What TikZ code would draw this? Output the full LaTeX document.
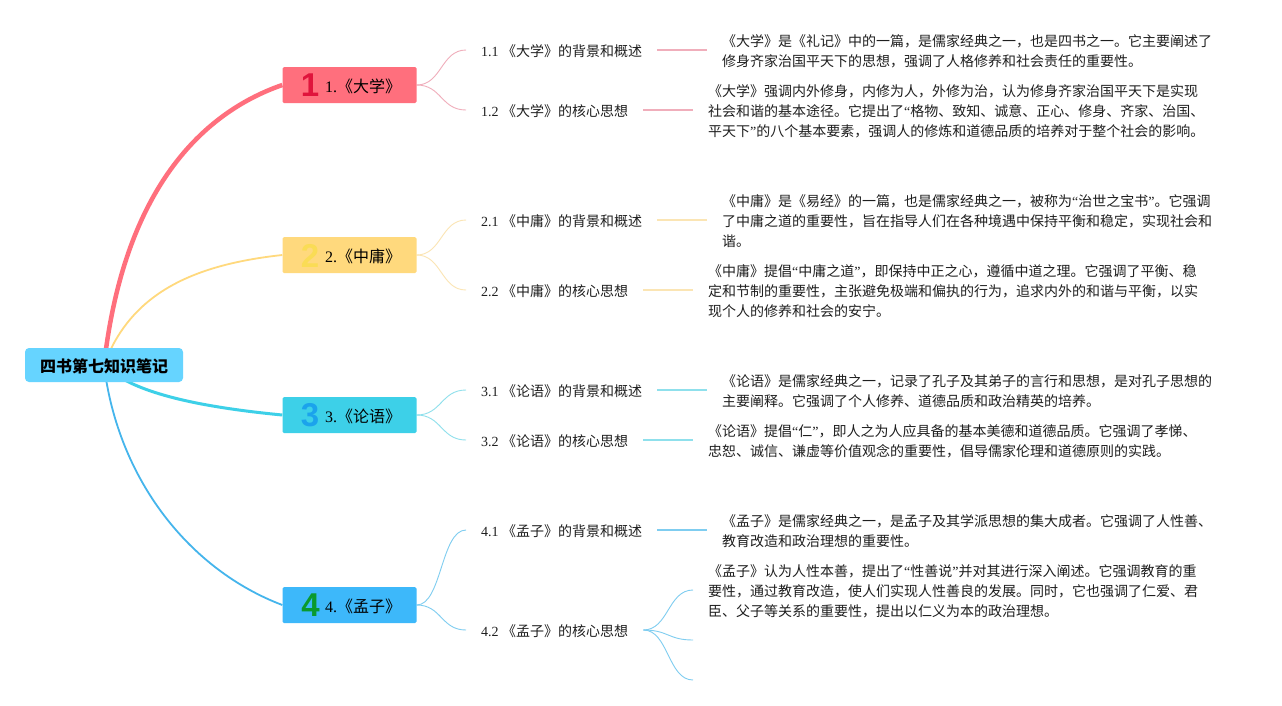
\documentclass[tikz,border=0pt]{standalone}
\usepackage{fontspec}
\usetikzlibrary{backgrounds}
\setmainfont{Noto Sans CJK SC}
\newfontfamily\lat{Liberation Serif}
\newfontfamily\iconfont{Liberation Sans}
\newcommand{\LQ}{{\lat “}}
\newcommand{\RQ}{{\lat ”}}
\newcommand{\tlabel}[2]{\hbox to 134pt{\hspace{42.5pt}\raisebox{-7pt}[0pt][0pt]{{\lat #1}#2}\hfil}}
\definecolor{rootc}{HTML}{66D4FF}
\definecolor{redc}{HTML}{FF6F7D}
\definecolor{yelc}{HTML}{FFD97D}
\definecolor{teac}{HTML}{3DD0E8}
\definecolor{bluc}{HTML}{3DB8FA}
\definecolor{blue2}{HTML}{45B5EC}
\definecolor{redl}{HTML}{F0AEBB}
\definecolor{yell}{HTML}{FBE5B4}
\definecolor{teal2}{HTML}{8FE0EC}
\definecolor{blul}{HTML}{7FCDF0}
\definecolor{ic1}{HTML}{E0143C}
\definecolor{ic2}{HTML}{FADC55}
\definecolor{ic3}{HTML}{1BA3EC}
\definecolor{ic4}{HTML}{0A9A2E}
\tikzset{
  rootbox/.style={fill=rootc,rounded corners=4pt,minimum width=158pt,minimum height=34pt,inner sep=0pt,font=\fontsize{16}{20}\selectfont\bfseries},
  topicbox/.style={rounded corners=1.5pt,minimum width=134pt,minimum height=36pt,inner sep=0pt,font=\fontsize{16}{20}\selectfont},
  iconnum/.style={inner sep=0pt,font=\fontsize{33}{34}\selectfont\iconfont\bfseries},
  sublabel/.style={anchor=west,inner xsep=15pt,inner ysep=0pt,text height=14pt,text depth=2pt,font=\fontsize{14}{20}\selectfont,text=black!88},
  notebox/.style={anchor=west,inner xsep=15pt,inner ysep=0pt,align=left,font=\fontsize{14}{20}\selectfont,text=black!88,
    execute at begin node={\rule[-4pt]{0pt}{15pt}},execute at end node={\rule[-4pt]{0pt}{15pt}}},
  branch/.style={line width=0.9pt},
  leaf/.style={line width=1.7pt}
}
\begin{document}
\begin{tikzpicture}[x=1pt,y=-1pt]
\useasboundingbox (0,0) rectangle (1282,705);
\node[rootbox] (root) at (104,365) {\raisebox{-7pt}[0pt][0pt]{四书第七知识笔记}};
\node[topicbox,fill=redc] (t1) at (349.5,85) {\tlabel{1.}{《大学》}};
\node[topicbox,fill=yelc] (t2) at (349.5,255) {\tlabel{2.}{《中庸》}};
\node[topicbox,fill=teac] (t3) at (349.5,415) {\tlabel{3.}{《论语》}};
\node[topicbox,fill=bluc] (t4) at (349.5,605) {\tlabel{4.}{《孟子》}};
\node[iconnum,text=ic1] (i1) at (310,85) {1};
\node[iconnum,text=ic2] (i2) at (310,255.5) {2};
\node[iconnum,text=ic3] (i3) at (310,415.5) {3};
\node[iconnum,text=ic4] (i4) at (310.5,605) {4};

\node[sublabel] (l11) at (466,50) {{\lat 1.1 }《大学》的背景和概述};
\node[sublabel] (l12) at (466,110) {{\lat 1.2 }《大学》的核心思想};
\node[sublabel] (l21) at (466,220) {{\lat 2.1 }《中庸》的背景和概述};
\node[sublabel] (l22) at (466,290) {{\lat 2.2 }《中庸》的核心思想};
\node[sublabel] (l31) at (466,390) {{\lat 3.1 }《论语》的背景和概述};
\node[sublabel] (l32) at (466,440) {{\lat 3.2 }《论语》的核心思想};
\node[sublabel] (l41) at (466,530) {{\lat 4.1 }《孟子》的背景和概述};
\node[sublabel] (l42) at (466,630) {{\lat 4.2 }《孟子》的核心思想};

\node[notebox] (n11) at (707,52.5) {《大学》是《礼记》中的一篇，是儒家经典之一，也是四书之一。它主要阐述了\\修身齐家治国平天下的思想，强调了人格修养和社会责任的重要性。};
\node[notebox] (n12) at (693,112.5) {《大学》强调内外修身，内修为人，外修为治，认为修身齐家治国平天下是实现\\社会和谐的基本途径。它提出了\LQ 格物、致知、诚意、正心、修身、齐家、治国、\\平天下\RQ 的八个基本要素，强调人的修炼和道德品质的培养对于整个社会的影响。};
\node[notebox] (n21) at (707,222.5) {《中庸》是《易经》的一篇，也是儒家经典之一，被称为\LQ 治世之宝书\RQ 。它强调\\了中庸之道的重要性，旨在指导人们在各种境遇中保持平衡和稳定，实现社会和\\谐。};
\node[notebox] (n22) at (693,292.5) {《中庸》提倡\LQ 中庸之道\RQ ，即保持中正之心，遵循中道之理。它强调了平衡、稳\\定和节制的重要性，主张避免极端和偏执的行为，追求内外的和谐与平衡，以实\\现个人的修养和社会的安宁。};
\node[notebox] (n31) at (707,392.5) {《论语》是儒家经典之一，记录了孔子及其弟子的言行和思想，是对孔子思想的\\主要阐释。它强调了个人修养、道德品质和政治精英的培养。};
\node[notebox] (n32) at (693,442.5) {《论语》提倡\LQ 仁\RQ ，即人之为人应具备的基本美德和道德品质。它强调了孝悌、\\忠恕、诚信、谦虚等价值观念的重要性，倡导儒家伦理和道德原则的实践。};
\node[notebox] (n41) at (707,532.5) {《孟子》是儒家经典之一，是孟子及其学派思想的集大成者。它强调了人性善、\\教育改造和政治理想的重要性。};
\node[notebox] (n42) at (693,592.5) {《孟子》认为人性本善，提出了\LQ 性善说\RQ 并对其进行深入阐述。它强调教育的重\\要性，通过教育改造，使人们实现人性善良的发展。同时，它也强调了仁爱、君\\臣、父子等关系的重要性，提出以仁义为本的政治理想。};
\coordinate (c1) at (693,640);
\coordinate (c2) at (693,680);

\begin{scope}[on background layer]
\fill[white] (0,0) rectangle (1282,705);
\draw[redc,line width=4.5pt] (root.center) .. controls (125,180) and (210,110) .. (t1.west);
\draw[yelc,line width=1.8pt] (root.center) .. controls (130,295) and (190,265) .. (t2.west);
\draw[teac,line width=3pt] (root.center) .. controls (133,395) and (210,408) .. (t3.west);
\draw[blue2,line width=1.8pt] (root.center) .. controls (118,480) and (190,570) .. (t4.west);

\foreach \t/\a/\b/\col in {t1/l11/l12/redl,t2/l21/l22/yell,t3/l31/l32/teal2,t4/l41/l42/blul}{
  \draw[branch,\col] (\t.east) .. controls +(25,0) and +(-25,0) .. (\a.west);
  \draw[branch,\col] (\t.east) .. controls +(25,0) and +(-25,0) .. (\b.west);
}
\foreach \a/\b/\col in {l11/n11/redl,l12/n12/redl,l21/n21/yell,l22/n22/yell,l31/n31/teal2,l32/n32/teal2,l41/n41/blul}{
  \draw[leaf,\col] (\a.east) -- (\a.east -| \b.west);
}
\draw[branch,blul] (l42.east) .. controls +(25,0) and +(-25,0) .. (n42.west |- 0,590);
\draw[branch,blul] (l42.east) .. controls +(25,0) and +(-25,0) .. (c1);
\draw[branch,blul] (l42.east) .. controls +(25,0) and +(-25,0) .. (c2);
\end{scope}
\end{tikzpicture}
\end{document}
